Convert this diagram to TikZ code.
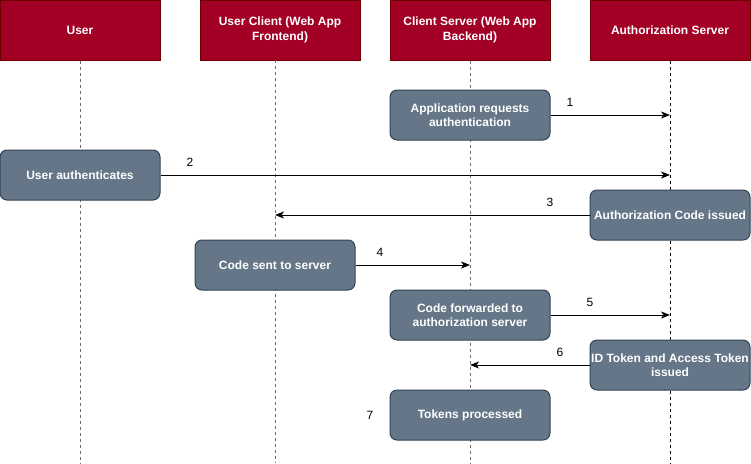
\documentclass[tikz,border=0pt]{standalone}
\usepackage{fontspec}
\setmainfont{Liberation Sans}
\usetikzlibrary{arrows.meta}
\definecolor{headred}{HTML}{A20025}
\definecolor{headedge}{HTML}{6F0000}
\definecolor{actfill}{HTML}{647687}
\definecolor{actedge}{HTML}{314354}
\begin{document}
\begin{tikzpicture}[x=1pt,y=-1pt,
    header/.style={fill=headred,draw=headedge,line width=1pt,minimum width=160pt,minimum height=60pt,
      text=white,font=\fontsize{12}{14.5}\selectfont\bfseries,align=center,inner sep=0pt},
    actbox/.style={fill=actfill,draw=actedge,line width=1pt,rounded corners=7pt,minimum width=160pt,minimum height=50pt,
      text=white,font=\fontsize{12}{14.5}\selectfont\bfseries,align=center,inner sep=0pt},
    lifeline/.style={draw=gray!85!black,line width=1pt,dash pattern=on 3pt off 3pt},
    msg/.style={line width=1pt,-{Stealth[length=9pt,width=7pt,inset=2.5pt]}},
    stepno/.style={font=\fontsize{12}{14}\selectfont,inner sep=0pt}]
    \useasboundingbox (0,0) rectangle (751,463);
    % participants
    \node[header] (user) at (80,30) {User};
    \node[header] (uclient) at (280,30) {User Client (Web App\\Frontend)};
    \node[header] (cserver) at (470,30) {Client Server (Web App\\Backend)};
    \node[header] (aserver) at (670,30) {Authorization Server};
    % lifelines
    \coordinate (userend) at (80,463);
    \coordinate (uctop) at (275,60);
    \coordinate (ucend) at (275,463);
    \coordinate (csend) at (470,463);
    \coordinate (asend) at (670,463);
    \draw[lifeline] (user.south) -- (userend);
    \draw[lifeline] (uctop) -- (ucend);
    \draw[lifeline] (cserver.south) -- (csend);
    \draw[line width=.8pt,dash pattern=on 3pt off 3pt] (aserver.south) -- (asend);
    % activities
    \node[actbox] (appreq) at (470,115) {Application requests\\authentication};
    \node[actbox] (userauth) at (80,175) {User authenticates};
    \node[actbox] (codeiss) at (670,215) {Authorization Code issued};
    \node[actbox] (codesent) at (275,265) {Code sent to server};
    \node[actbox] (codefwd) at (470,315) {Code forwarded to\\authorization server};
    \node[actbox] (tokiss) at (670,365) {ID Token and Access Token\\issued};
    \node[actbox] (tokproc) at (470,415) {Tokens processed};
    % message ends on lifelines
    \coordinate (m1) at (670,115);
    \coordinate (m2) at (670,175);
    \coordinate (m3) at (275,215);
    \coordinate (m4) at (470,265);
    \coordinate (m5) at (670,315);
    \coordinate (m6) at (470,365);
    \draw[msg] (appreq.east) -- (m1);
    \draw[msg] (userauth.east) -- (m2);
    \draw[msg] (codeiss.west) -- (m3);
    \draw[msg] (codesent.east) -- (m4);
    \draw[msg] (codefwd.east) -- (m5);
    \draw[msg] (tokiss.west) -- (m6);
    % step numbers
    \node[stepno] (n1) at (570,102) {1};
    \node[stepno] (n2) at (190,162) {2};
    \node[stepno] (n3) at (550,202) {3};
    \node[stepno] (n4) at (380,252) {4};
    \node[stepno] (n5) at (590,302) {5};
    \node[stepno] (n6) at (560,352) {6};
    \node[stepno] (n7) at (370,415) {7};
\end{tikzpicture}
\end{document}
